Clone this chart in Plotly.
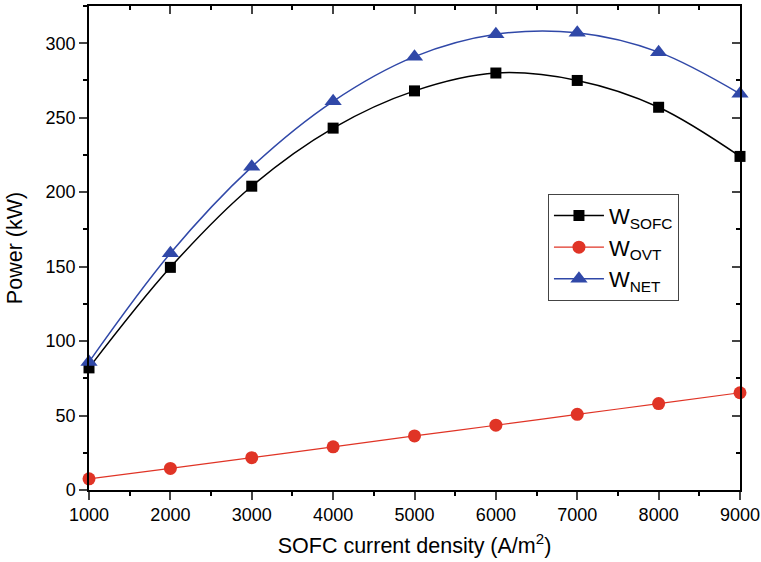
import plotly.graph_objects as go

current_density = [1000, 2000, 3000, 4000, 5000, 6000, 7000, 8000, 9000]
w_sofc = [82, 149.5, 204, 243, 268, 280, 275, 257, 224]
w_ovt = [7.5, 14.5, 21.7, 29, 36.3, 43.5, 50.8, 58, 65.3]
w_net = [86, 159, 217, 261, 291, 306, 307, 294, 266]

FONT = "Liberation Sans, Arial, sans-serif"

fig = go.Figure()
fig.add_trace(go.Scatter(x=current_density, y=w_sofc, mode="lines+markers",
                         name="W<sub>SOFC</sub>", line=dict(color="black", width=1.5, shape="spline"),
                         marker=dict(symbol="square", size=11, color="black"), cliponaxis=False))
fig.add_trace(go.Scatter(x=current_density, y=w_ovt, mode="lines+markers",
                         name="W<sub>OVT</sub>", line=dict(color="#e03426", width=1.2, shape="spline"),
                         marker=dict(symbol="circle", size=13, color="#e03426"), cliponaxis=False))
fig.add_trace(go.Scatter(x=current_density, y=w_net, mode="lines+markers",
                         name="W<sub>NET</sub>", line=dict(color="#3048a8", width=1.5, shape="spline"),
                         marker=dict(symbol="triangle-up", size=15, color="#3048a8"), cliponaxis=False))
# invisible trace for mirrored top/right axes
fig.add_trace(go.Scatter(x=[current_density[0]], y=[0], xaxis="x2", yaxis="y2",
                         mode="markers", marker=dict(opacity=0), showlegend=False, hoverinfo="skip"))

fig.update_layout(
    width=761, height=562,
    margin=dict(l=89, r=21, t=6, b=72),
    paper_bgcolor="white", plot_bgcolor="white",
    font=dict(family=FONT, size=18, color="black"),
    xaxis=dict(range=[1000, 9000], dtick=1000, tick0=1000, ticks="outside", ticklen=8, tickwidth=1.5,
               showline=True, linecolor="black", linewidth=1.5, showgrid=False, zeroline=False,
               automargin=False,
               minor=dict(dtick=500, ticks="outside", ticklen=4, tickwidth=1.5, tickcolor="black"),
               tickfont=dict(size=18),
               title=dict(text="SOFC current density (A/m<sup>2</sup>)", font=dict(size=21.5), standoff=14)),
    yaxis=dict(range=[0, 325], dtick=50, ticks="outside", ticklen=8, tickwidth=1.5,
               showline=True, linecolor="black", linewidth=1.5, showgrid=False, zeroline=False,
               automargin=False,
               minor=dict(dtick=25, ticks="outside", ticklen=4, tickwidth=1.5, tickcolor="black"),
               tickfont=dict(size=18),
               title=dict(text="Power (kW)", font=dict(size=21.5), standoff=17)),
    xaxis2=dict(range=[1000, 9000], dtick=1000, tick0=1000, overlaying="x", side="top", ticks="inside",
                ticklen=8, tickwidth=1.5, showline=True, linecolor="black", linewidth=1.5,
                showgrid=False, zeroline=False, showticklabels=False, automargin=False,
                minor=dict(dtick=500, ticks="inside", ticklen=4, tickwidth=1.5, tickcolor="black")),
    yaxis2=dict(range=[0, 325], dtick=50, overlaying="y", side="right", ticks="inside",
                ticklen=8, tickwidth=1.5, showline=True, linecolor="black", linewidth=1.5,
                showgrid=False, zeroline=False, showticklabels=False, automargin=False,
                minor=dict(dtick=25, ticks="inside", ticklen=4, tickwidth=1.5, tickcolor="black")),
    legend=dict(x=0.705, y=0.612, xanchor="left", yanchor="top", bordercolor="#444", borderwidth=1,
                bgcolor="white", font=dict(size=22), itemwidth=50, tracegroupgap=0),
    showlegend=True,
)

fig.write_html("out.html")
